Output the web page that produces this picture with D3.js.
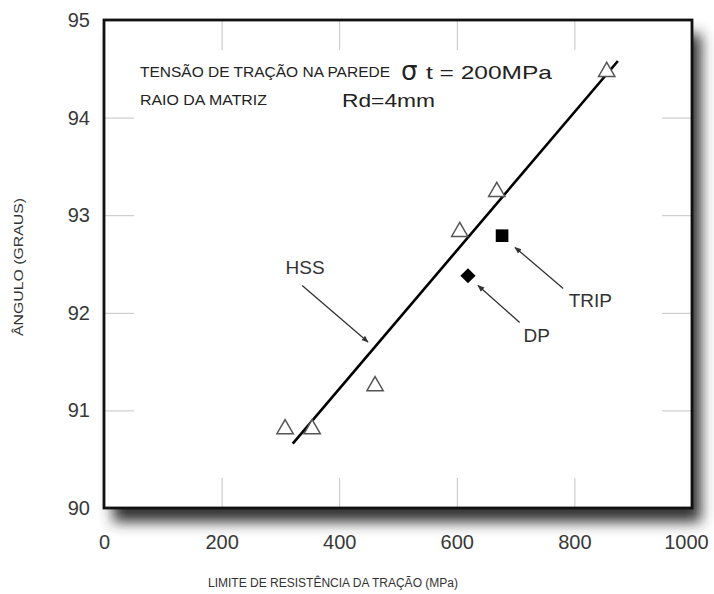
<!DOCTYPE html>
<html><head><meta charset="utf-8">
<script src="https://cdn.jsdelivr.net/npm/d3@7"></script>
<style>
body{margin:0;background:#fff;}
svg{display:block;font-family:"Liberation Sans", Arial, sans-serif;}
</style>
</head><body>
<svg id="c" width="714" height="594"></svg>
<script>
// ---- data ----
const xTicks = [0, 200, 400, 600, 800, 1000];
const yTicks = [90, 91, 92, 93, 94, 95];
const hssX = [308, 354, 461, 605, 668, 855];
const hssY = [90.81, 90.81, 91.25, 92.83, 93.24, 94.47];
const tripPoint = [677, 92.79];
const dpPoint = [619, 92.38];
const fitLineX = [321, 874];
const fitLineY = [90.66, 94.58];
const labelNames = ["HSS", "DP", "TRIP"];
const labelAt = [[342, 92.47], [736, 91.77], [827, 92.13]];
const arrowFrom = [[337, 92.28], [707, 91.90], [781, 92.25]];
const arrowTo = [[449, 91.70], [636, 92.28], [699, 92.67]];
const xTitle = "LIMITE DE RESISTÊNCIA DA TRAÇÃO (MPa)";
const yTitle = "ÂNGULO (GRAUS)";
const note1 = "TENSÃO DE TRAÇÃO NA PAREDE";
const note2 = "RAIO DA MATRIZ";
const noteSigma = "σ";
const noteStress = "t = 200MPa";
const noteRadius = "Rd=4mm";

// ---- layout ----
const svg = d3.select("#c");
const L = 104, R = 692, T = 20, B = 508;
const x = d3.scaleLinear().domain([0, 1000]).range([L, R]);
const y = d3.scaleLinear().domain([90, 95]).range([B, T]);

const defs = svg.append("defs");
defs.append("filter").attr("id", "blur").attr("filterUnits", "userSpaceOnUse")
  .attr("x", 0).attr("y", 0).attr("width", 714).attr("height", 594)
  .append("feGaussianBlur").attr("stdDeviation", 7);
defs.append("marker").attr("id", "ah").attr("viewBox", "0 0 10 10")
  .attr("refX", 9).attr("refY", 5).attr("markerWidth", 7).attr("markerHeight", 7)
  .attr("markerUnits", "userSpaceOnUse").attr("orient", "auto")
  .append("path").attr("d", "M0,1 L10,5 L0,9 Z").attr("fill", "#333");

// drop shadow + plot background
svg.append("rect").attr("x", L + 9).attr("y", T + 14).attr("width", R - L).attr("height", B - T)
  .attr("fill", "#333").attr("filter", "url(#blur)");
svg.append("rect").attr("x", L).attr("y", T).attr("width", R - L).attr("height", B - T)
  .attr("fill", "#fff");

// inward tick marks
function styleAxis(g, labels) {
  g.select(".domain").remove();
  g.selectAll(".tick line").attr("stroke", "#c4c4c4").attr("stroke-width", 1);
  if (!labels) g.selectAll(".tick text").remove();
  else g.selectAll(".tick text").attr("fill", "#383838").attr("font-size", 20)
        .attr("font-family", "'Liberation Sans', Arial, sans-serif");
}
svg.append("g").attr("transform", `translate(0,${B})`)
  .call(d3.axisBottom(x).tickValues(xTicks).tickSizeInner(-30).tickSizeOuter(0).tickPadding(27).tickFormat(d3.format("d")))
  .call(g => styleAxis(g, true))
  .call(g => g.selectAll(".tick text").filter(d => d === 1000).attr("dx", -6));
svg.append("g").attr("transform", `translate(0,${T})`)
  .call(d3.axisTop(x).tickValues(xTicks).tickSizeInner(-30).tickSizeOuter(0))
  .call(g => styleAxis(g, false));
svg.append("g").attr("transform", `translate(${L},0)`)
  .call(d3.axisLeft(y).tickValues(yTicks).tickSizeInner(-30).tickSizeOuter(0).tickPadding(14).tickFormat(d3.format("d")))
  .call(g => styleAxis(g, true));
svg.append("g").attr("transform", `translate(${R},0)`)
  .call(d3.axisRight(y).tickValues(yTicks).tickSizeInner(-30).tickSizeOuter(0))
  .call(g => styleAxis(g, false));

// frame
svg.append("rect").attr("x", L).attr("y", T).attr("width", R - L).attr("height", B - T)
  .attr("fill", "none").attr("stroke", "#111").attr("stroke-width", 2.8);

// fitted line
svg.append("line")
  .attr("x1", x(fitLineX[0])).attr("y1", y(fitLineY[0]))
  .attr("x2", x(fitLineX[1])).attr("y2", y(fitLineY[1]))
  .attr("stroke", "#000").attr("stroke-width", 2.6);

// HSS triangles
svg.append("g").selectAll("path").data(hssX.map((v, i) => [v, hssY[i]])).join("path")
  .attr("transform", d => `translate(${x(d[0])},${y(d[1])})`)
  .attr("d", d3.symbol(d3.symbolTriangle, 115))
  .attr("fill", "#fff").attr("stroke", "#555").attr("stroke-width", 1.5);

// TRIP square
svg.append("path").attr("transform", `translate(${x(tripPoint[0])},${y(tripPoint[1])})`)
  .attr("d", d3.symbol(d3.symbolSquare, 160)).attr("fill", "#000");
// DP diamond
svg.append("path").attr("transform", `translate(${x(dpPoint[0])},${y(dpPoint[1])}) rotate(45)`)
  .attr("d", d3.symbol(d3.symbolSquare, 115)).attr("fill", "#000");

// labels + arrows
labelNames.forEach((n, i) => {
  svg.append("line")
    .attr("x1", x(arrowFrom[i][0])).attr("y1", y(arrowFrom[i][1]))
    .attr("x2", x(arrowTo[i][0])).attr("y2", y(arrowTo[i][1]))
    .attr("stroke", "#333").attr("stroke-width", 1.3).attr("marker-end", "url(#ah)");
  svg.append("text").attr("x", x(labelAt[i][0])).attr("y", y(labelAt[i][1]))
    .attr("dy", "0.36em").attr("text-anchor", "middle")
    .attr("font-size", 19).attr("fill", "#333").text(n);
});

// notes
svg.append("text").attr("x", 140).attr("y", 77).attr("font-size", 14).attr("fill", "#222")
  .attr("textLength", 250).attr("lengthAdjust", "spacingAndGlyphs").text(note1);
svg.append("text").attr("x", 140).attr("y", 105).attr("font-size", 14).attr("fill", "#222")
  .attr("textLength", 127).attr("lengthAdjust", "spacingAndGlyphs").text(note2);
svg.append("text").attr("x", 401).attr("y", 80).attr("font-size", 26).attr("fill", "#222")
  .attr("font-family", "'DejaVu Sans', sans-serif").text(noteSigma);
svg.append("text").attr("x", 426).attr("y", 79).attr("font-size", 19).attr("fill", "#222")
  .attr("textLength", 126).attr("lengthAdjust", "spacingAndGlyphs").text(noteStress);
svg.append("text").attr("x", 342).attr("y", 107).attr("font-size", 19).attr("fill", "#222")
  .attr("textLength", 93).attr("lengthAdjust", "spacingAndGlyphs").text(noteRadius);

// axis titles
svg.append("text").attr("x", 208).attr("y", 587).attr("font-size", 12).attr("fill", "#333")
  .attr("textLength", 250).attr("lengthAdjust", "spacingAndGlyphs").text(xTitle);
svg.append("text").attr("transform", "translate(23,267) rotate(-90)").attr("text-anchor", "middle")
  .attr("font-size", 12).attr("fill", "#333")
  .attr("textLength", 138).attr("lengthAdjust", "spacingAndGlyphs").text(yTitle);
</script>
</body></html>
